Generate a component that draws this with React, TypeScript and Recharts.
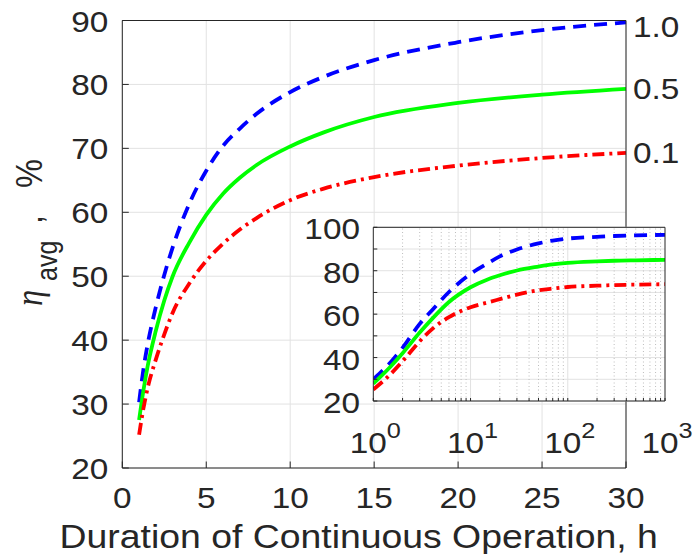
import React from "react";
import {
  LineChart,
  Line,
  XAxis,
  YAxis,
  CartesianGrid,
  LabelList,
  ReferenceLine,
} from "recharts";

// ---------- data ----------
const mainHours = [1, 1.25, 1.5, 2, 2.5, 3, 4, 5, 6, 7, 8, 10, 12, 15, 20, 25, 30];
const mainBlue = [30.3, 35.3, 39.2, 45.2, 50.2, 54.5, 61.4, 66.5, 70.4, 73.1, 75.4, 78.8, 81.2, 83.8, 86.6, 88.5, 89.7];
const mainGreen = [27.5, 32, 35.8, 41.5, 46.2, 50, 55.3, 59.6, 62.9, 65.4, 67.4, 70.3, 72.5, 74.9, 77.1, 78.4, 79.3];
const mainRed = [25.2, 29.2, 32.4, 37, 40.9, 44.3, 48.9, 52.4, 55.1, 57.3, 59.1, 61.9, 63.7, 65.5, 67.3, 68.5, 69.3];

const insetHours = [1, 1.5, 2, 3, 4, 6, 10, 15, 20, 30, 50, 70, 100, 200, 300, 500, 1000];
const insetBlue = [30, 37.7, 44.5, 55.5, 61.7, 70.2, 78.5, 83.4, 86.6, 89.8, 92.6, 93.9, 94.8, 95.6, 96, 96.3, 96.5];
const insetGreen = [28, 35.8, 42, 51.5, 57.7, 65.6, 72.4, 76, 77.9, 80.1, 81.9, 82.9, 83.6, 84.3, 84.6, 84.8, 85];
const insetRed = [25.3, 32.3, 38.3, 47.5, 53, 58.6, 63.2, 65.4, 66.9, 69, 71, 71.8, 72.5, 73.1, 73.4, 73.6, 73.8];

const seriesEndLabels = ["1.0", "0.5", "0.1"];

const mainXTicks = [0, 5, 10, 15, 20, 25, 30];
const mainYTicks = [20, 30, 40, 50, 60, 70, 80, 90];
const insetXMajor = [1, 10, 100, 1000];
const insetXMinor = [2, 3, 4, 5, 6, 7, 8, 9, 20, 30, 40, 50, 60, 70, 80, 90, 200, 300, 400, 500, 600, 700, 800, 900];
const insetYTicks = [20, 30, 40, 50, 60, 70, 80, 90, 100];

const xTitle = "Duration of Continuous Operation, h";

// ---------- tables ----------
const mainData = mainHours.map((h, i) => ({ h, blue: mainBlue[i], green: mainGreen[i], red: mainRed[i] }));
const insetData = insetHours.map((h, i) => ({ h, blue: insetBlue[i], green: insetGreen[i], red: insetRed[i] }));
const insetAllTicks = [...insetXMajor, ...insetXMinor].sort((a, b) => a - b);

// ---------- styling ----------
const FONT = "'Liberation Sans', Arial, Helvetica, sans-serif";
const INK = "#262626";
const GRID = "#e2e2e2";
const STRETCH = 1.15;
const BLUE = "#0000ff";
const GREEN = "#00ff00";
const RED = "#ff0000";
const LW = 3.8;

function SText(props: any) {
  const { x, y, anchor = "middle", size = 29, children } = props;
  return (
    <text
      transform={`translate(${x},${y}) scale(${STRETCH},1)`}
      textAnchor={anchor}
      fontSize={size}
      fontFamily={FONT}
      fill={INK}
    >
      {children}
    </text>
  );
}

const MainYTick = (p: any) => (
  <SText x={p.x} y={p.y + 11} anchor="end">
    {p.payload.value}
  </SText>
);
const MainXTick = (p: any) => (
  <SText x={p.x} y={p.y} anchor="middle">
    {p.payload.value}
  </SText>
);
const InsetYTick = (p: any) =>
  p.payload.value % 20 === 0 ? (
    <SText x={p.x} y={p.y + 12} anchor="end">
      {p.payload.value}
    </SText>
  ) : (
    <g />
  );
const InsetXTick = (p: any) => {
  const v = p.payload.value;
  const e = Math.round(Math.log10(v));
  if (Math.abs(Math.pow(10, e) - v) > 1e-6) return <g />;
  return (
    <SText x={p.x + 2} y={p.y} anchor="middle">
      10
      <tspan dy={-15} fontSize={22}>
        {e}
      </tspan>
    </SText>
  );
};

const endLabel = (text: string, shift: number) => (p: any) => {
  if (p.index !== mainData.length - 1) return null;
  return (
    <SText x={p.x + 7} y={p.y + 10 + shift} anchor="start">
      {text}
    </SText>
  );
};

const XTitle = (p: any) => {
  const vb = p.viewBox || {};
  return (
    <SText x={vb.x + vb.width / 2 - 15.5} y={547.5} anchor="middle" size={32.5}>
      {xTitle}
    </SText>
  );
};

const YTitle = (p: any) => {
  const vb = p.viewBox || {};
  const x = vb.x + vb.width - 80;
  return (
    <text
      transform={`translate(${x},306) scale(${STRETCH},1) rotate(-90)`}
      textAnchor="start"
      fontSize={32.5}
      fontFamily={FONT}
      fill={INK}
    >
      <tspan x={0} fontFamily="'Liberation Serif', 'DejaVu Serif', serif" fontStyle="italic">
        η
      </tspan>
      <tspan x={25} dy={13} fontSize={25}>
        avg
      </tspan>
      <tspan x={82} dy={-13}>
        ,
      </tspan>
      <tspan x={118}>%</tspan>
    </text>
  );
};

export default function App() {
  return (
    <div style={{ position: "absolute", left: 0, top: 0, width: 696, height: 554, background: "#fff" }}>
      <div style={{ position: "absolute", left: 0, top: 0 }}>
        <LineChart
          width={696}
          height={554}
          data={mainData}
          margin={{ top: 19.5, right: 69, bottom: 46, left: 62.3 }}
        >
          <CartesianGrid stroke={GRID} strokeWidth={1} xAxisId="b" yAxisId="l" />
          <XAxis
            xAxisId="b"
            dataKey="h"
            type="number"
            domain={[0, 30]}
            ticks={mainXTicks}
            height={40}
            stroke={INK}
            tickSize={-6.5}
            tickMargin={46.5}
            tick={MainXTick}
            label={XTitle}
            interval={0}
          />
          <XAxis
            xAxisId="t"
            orientation="top"
            dataKey="h"
            type="number"
            domain={[0, 30]}
            ticks={mainXTicks}
            height={1}
            stroke={INK}
            tickSize={-6.5}
            tick={false}
          />
          <YAxis
            yAxisId="l"
            type="number"
            domain={[20, 90]}
            ticks={mainYTicks}
            width={60}
            stroke={INK}
            tickSize={-6.5}
            tickMargin={20.5}
            tick={MainYTick}
            label={YTitle}
            interval={0}
          />
          <YAxis
            yAxisId="r"
            orientation="right"
            type="number"
            domain={[20, 90]}
            ticks={mainYTicks}
            width={1}
            stroke={INK}
            tickSize={-6.5}
            tick={false}
          />
          <Line
            xAxisId="b"
            yAxisId="l"
            dataKey="blue"
            type="monotone"
            stroke={BLUE}
            strokeWidth={LW}
            strokeDasharray="13 8"
            dot={false}
            activeDot={false}
            isAnimationActive={false}
          >
            <LabelList dataKey="blue" content={endLabel(seriesEndLabels[0], 5)} />
          </Line>
          <Line
            xAxisId="b"
            yAxisId="l"
            dataKey="green"
            type="monotone"
            stroke={GREEN}
            strokeWidth={LW}
            dot={false}
            activeDot={false}
            isAnimationActive={false}
          >
            <LabelList dataKey="green" content={endLabel(seriesEndLabels[1], 0)} />
          </Line>
          <Line
            xAxisId="b"
            yAxisId="l"
            dataKey="red"
            type="monotone"
            stroke={RED}
            strokeWidth={LW}
            strokeDasharray="12 5 3 5"
            dot={false}
            activeDot={false}
            isAnimationActive={false}
          >
            <LabelList dataKey="red" content={endLabel(seriesEndLabels[2], 0)} />
          </Line>
        </LineChart>
      </div>

      <div style={{ position: "absolute", left: 290, top: 200 }}>
        <LineChart
          width={406}
          height={270}
          data={insetData}
          margin={{ top: 26.3, right: 30, bottom: 19, left: 33.3 }}
        >
          <CartesianGrid
            stroke={GRID}
            fill="#ffffff"
            fillOpacity={1}
            vertical={false}
            xAxisId="b"
            yAxisId="l"
          />
          {insetXMinor.map((v) => (
            <ReferenceLine
              key={"m" + v}
              x={v}
              xAxisId="b"
              yAxisId="l"
              stroke="#bdbdbd"
              strokeWidth={1}
              strokeDasharray="1 2.5"
            />
          ))}
          {insetXMajor.slice(1, 3).map((v) => (
            <ReferenceLine key={"M" + v} x={v} xAxisId="b" yAxisId="l" stroke={GRID} strokeWidth={1} />
          ))}
          <XAxis
            xAxisId="b"
            dataKey="h"
            type="number"
            scale="log"
            domain={[1, 1000]}
            ticks={insetAllTicks}
            height={50}
            stroke={INK}
            tickSize={-3}
            tickMargin={55}
            tick={InsetXTick}
            interval={0}
            allowDataOverflow
          />
          <XAxis
            xAxisId="t"
            orientation="top"
            dataKey="h"
            type="number"
            scale="log"
            domain={[1, 1000]}
            ticks={insetAllTicks}
            height={1}
            stroke={INK}
            tickSize={-3}
            tick={false}
            interval={0}
            allowDataOverflow
          />
          <YAxis
            yAxisId="l"
            type="number"
            domain={[20, 100]}
            ticks={insetYTicks}
            width={50}
            stroke={INK}
            tickSize={-4}
            tickMargin={17.3}
            tick={InsetYTick}
            interval={0}
          />
          <YAxis
            yAxisId="r"
            orientation="right"
            type="number"
            domain={[20, 100]}
            ticks={insetYTicks}
            width={1}
            stroke={INK}
            tickSize={-4}
            tick={false}
            interval={0}
          />
          <Line
            xAxisId="b"
            yAxisId="l"
            dataKey="blue"
            type="monotone"
            stroke={BLUE}
            strokeWidth={LW}
            strokeDasharray="13 8"
            dot={false}
            activeDot={false}
            isAnimationActive={false}
          />
          <Line
            xAxisId="b"
            yAxisId="l"
            dataKey="green"
            type="monotone"
            stroke={GREEN}
            strokeWidth={LW}
            dot={false}
            activeDot={false}
            isAnimationActive={false}
          />
          <Line
            xAxisId="b"
            yAxisId="l"
            dataKey="red"
            type="monotone"
            stroke={RED}
            strokeWidth={LW}
            strokeDasharray="12 5 3 5"
            dot={false}
            activeDot={false}
            isAnimationActive={false}
          />
        </LineChart>
      </div>
    </div>
  );
}
